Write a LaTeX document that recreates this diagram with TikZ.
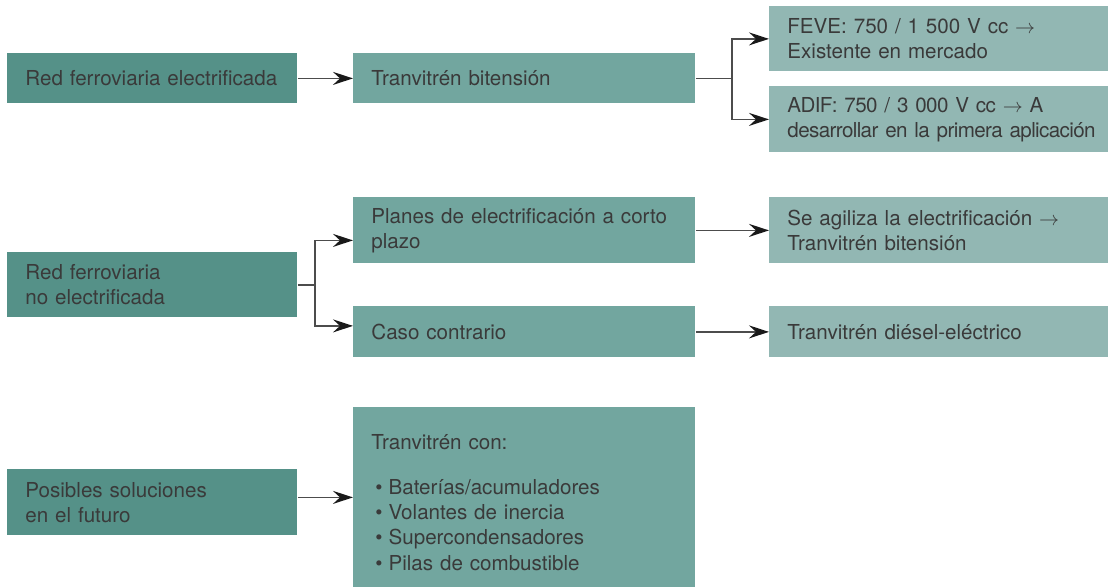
\documentclass[tikz,border=0pt]{standalone}
\usepackage{fontspec}
\setmainfont{TeX Gyre Heros}
\usetikzlibrary{arrows.meta}
\definecolor{tealdark}{HTML}{559188}
\definecolor{tealmid}{HTML}{72A69F}
\definecolor{teallight}{HTML}{92B7B3}
\definecolor{inkgray}{HTML}{3A3A3A}

\begin{document}
\begin{tikzpicture}[x=0.5pt, y=-0.5pt,
  every node/.style={anchor=north west, inner xsep=9pt, inner ysep=0pt, align=left,
    text=inkgray, font=\fontsize{10.3}{12.6}\selectfont},
  rootbox/.style={fill=tealdark, text width=127pt},
  midbox/.style={fill=tealmid, text width=153pt},
  leafbox/.style={fill=teallight, text width=175pt},
  tight/.style={font=\fontsize{10.3}{12.6}\selectfont\addfontfeature{LetterSpace=-3}},
  wire/.style={draw=black!70, line width=0.7pt},
  link/.style={wire, -{Stealth[length=10pt,width=6.5pt,inset=3.5pt,color=black!90]}}
]
\clip (0,0) rectangle (1108,587);

% electrified network
\node[rootbox, minimum height=25pt] (elec) at (7,53) {Red ferroviaria electrificada};
\node[midbox, minimum height=25pt] (biten) at (353,53) {Tranvitrén bitensión};
\node[leafbox, minimum height=32.5pt] (feve) at (769,6) {FEVE: 750 / 1 500 V cc $\rightarrow$\\Existente en mercado};
\node[leafbox, tight, minimum height=33pt] (adif) at (769,86) {ADIF: 750 / 3 000 V cc $\rightarrow$ A\\desarrollar en la primera aplicación};

% non electrified network
\node[rootbox, minimum height=32.5pt] (noelec) at (7,252) {Red ferroviaria\\no electrificada};
\node[midbox, minimum height=33pt] (planes) at (353,197) {Planes de electrificación a corto\\plazo};
\node[midbox, minimum height=25.5pt] (caso) at (353,306) {Caso contrario};
\node[leafbox, minimum height=33pt] (agiliza) at (769,197) {Se agiliza la electrificación $\rightarrow$\\Tranvitrén bitensión};
\node[leafbox, minimum height=25.5pt] (diesel) at (769,306) {Tranvitrén diésel-eléctrico};

% future
\node[rootbox, minimum height=33pt] (futuro) at (7,469) {Posibles soluciones\\en el futuro};
\node[midbox, minimum height=90pt] (tranv) at (353,407) {\rule{0pt}{12.5pt}Tranvitrén con:\\[10pt]
  \hspace*{2pt}\textbullet\hspace{3pt}Baterías/acumuladores\\
  \hspace*{2pt}\textbullet\hspace{3pt}Volantes de inercia\\
  \hspace*{2pt}\textbullet\hspace{3pt}Supercondensadores\\
  \hspace*{2pt}\textbullet\hspace{3pt}Pilas de combustible};

% connectors
\coordinate (fork1) at ([xshift=18pt]biten.east);
\coordinate (fork2) at ([xshift=8.5pt]noelec.east);
\draw[link] (elec) -- (biten);
\draw[wire] (biten.east) -- (fork1);
\draw[link] (fork1) |- (feve.west);
\draw[link] (fork1) |- (adif.west);
\draw[wire] (noelec.east) -- (fork2);
\draw[link] (fork2) |- ([yshift=-5pt]planes.west);
\draw[link] (fork2) |- ([yshift=3pt]caso.west);
\draw[link] (planes) -- (agiliza);
\draw[link] (caso) -- (diesel);
\draw[link] (futuro.east |- tranv.west) -- (tranv.west);
\end{tikzpicture}
\end{document}
